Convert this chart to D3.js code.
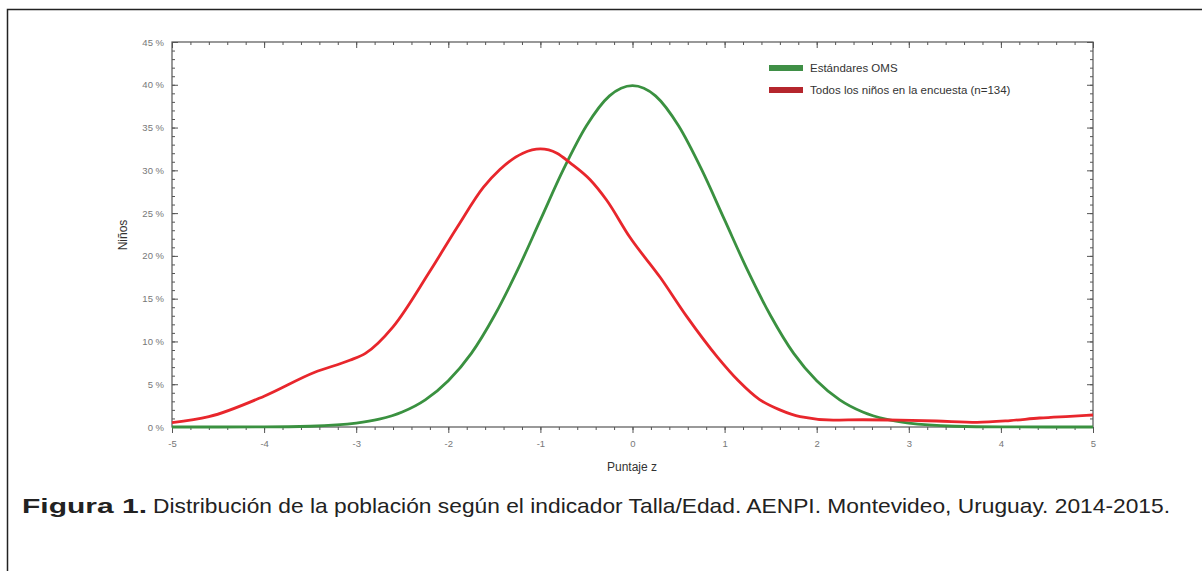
<!DOCTYPE html>
<html><head><meta charset="utf-8">
<script src="https://cdn.jsdelivr.net/npm/d3@7"></script>
<style>html,body{margin:0;padding:0;background:#fff;}svg{display:block;}</style>
</head><body>
<svg id="c" width="1202" height="571"></svg>
<script>
// ---- data ----
const xTicks = [-5,-4,-3,-2,-1,0,1,2,3,4,5];
const yTicks = [0,5,10,15,20,25,30,35,40,45];
const seriesNames = ["Estándares OMS", "Todos los niños en la encuesta (n=134)"];
// WHO standard curve
const whoZ = [-5,-4.5,-4,-3.5,-3,-2.75,-2.5,-2.25,-2,-1.75,-1.5,-1.25,-1,-0.75,-0.5,-0.25,0,0.25,0.5,0.75,1,1.25,1.5,1.75,2,2.25,2.5,2.75,3,3.5,4,4.5,5];
const whoPct = [0,0,0.01,0.09,0.44,0.91,1.75,3.17,5.4,8.6,13.0,18.3,24.2,30.1,35.2,38.7,39.9,38.7,35.2,30.1,24.2,18.3,13.0,8.6,5.4,3.17,1.75,0.91,0.44,0.09,0.01,0,0];
// survey children curve
const surZ = [-5,-4.6,-4,-3.45,-3.07,-2.9,-2.6,-2.2,-1.9,-1.62,-1.44,-1.19,-1.0,-0.82,-0.68,-0.46,-0.28,-0.03,0.3,0.59,0.92,1.15,1.38,1.6,1.82,2.18,2.5,2.9,3.3,3.74,4.1,4.42,4.75,5];
const surPct = [0.5,1.2,3.6,6.4,7.8,8.6,11.7,18.2,23.4,28.0,30.1,32.0,32.5,32.0,30.9,28.9,26.5,22.2,17.5,12.9,8.2,5.4,3.2,2.0,1.2,0.8,0.85,0.8,0.7,0.55,0.75,1.05,1.25,1.4];

// ---- layout ----
const svg = d3.select("#c");
const L = 172, R = 1093, T = 42, B = 427;
const x = d3.scaleLinear().domain([-5,5]).range([L,R]);
const y = d3.scaleLinear().domain([0,45]).range([B,T]);
const axisCol = "#555";
const FONT = "Liberation Sans, Arial, sans-serif";

// outer frame (top and left)
svg.append("path").attr("d","M7.5,571 L7.5,9.5 L1202,9.5").attr("fill","none").attr("stroke","#222").attr("stroke-width",1.5);

// axes with ticks
const minorX = d3.range(-5,5.0001,0.2).map(v=>+v.toFixed(2));
const minorY = d3.range(0,45.0001,1);
function styleAxis(g){ g.select(".domain").remove(); g.selectAll("line").attr("stroke",axisCol); g.selectAll("text").attr("fill","#777").attr("font-family",FONT).attr("font-size",9.5); }
// bottom (outward)
svg.append("g").attr("transform",`translate(0,${B})`).call(d3.axisBottom(x).tickValues(minorX).tickSize(3).tickFormat("")).call(styleAxis);
svg.append("g").attr("transform",`translate(0,${B})`).call(d3.axisBottom(x).tickValues(xTicks).tickSize(6).tickPadding(7).tickFormat(d=>String(d))).call(styleAxis);
// top (inward)
svg.append("g").attr("transform",`translate(0,${T})`).call(d3.axisBottom(x).tickValues(minorX).tickSize(3).tickFormat("")).call(styleAxis);
svg.append("g").attr("transform",`translate(0,${T})`).call(d3.axisBottom(x).tickValues(xTicks).tickSize(6).tickFormat("")).call(styleAxis);
// left (inward)
svg.append("g").attr("transform",`translate(${L},0)`).call(d3.axisRight(y).tickValues(minorY).tickSize(3).tickFormat("")).call(styleAxis);
svg.append("g").attr("transform",`translate(${L},0)`).call(d3.axisRight(y).tickValues(yTicks).tickSize(6).tickFormat("")).call(styleAxis);
svg.append("g").attr("transform",`translate(${L},0)`).call(d3.axisLeft(y).tickValues(yTicks).tickSize(0).tickPadding(8).tickFormat(d=>d+" %")).call(styleAxis);
// right (inward)
svg.append("g").attr("transform",`translate(${R},0)`).call(d3.axisLeft(y).tickValues(minorY).tickSize(3).tickFormat("")).call(styleAxis);
svg.append("g").attr("transform",`translate(${R},0)`).call(d3.axisLeft(y).tickValues(yTicks).tickSize(6).tickFormat("")).call(styleAxis);
// plot frame
svg.append("rect").attr("x",L).attr("y",T).attr("width",R-L).attr("height",B-T).attr("fill","none").attr("stroke",axisCol).attr("stroke-width",1.2);

// curves
const line = d3.line().x(d=>x(d[0])).y(d=>y(d[1])).curve(d3.curveMonotoneX);
const whoData = whoZ.map((z,i)=>[z,whoPct[i]]);
const surData = surZ.map((z,i)=>[z,surPct[i]]);
svg.append("path").datum(whoData).attr("d",line).attr("fill","none").attr("stroke","#3a9140").attr("stroke-width",2.8);
svg.append("path").datum(surData).attr("d",line).attr("fill","none").attr("stroke","#e8262c").attr("stroke-width",2.8);

// axis titles
svg.append("text").attr("x",632).attr("y",471).attr("text-anchor","middle").attr("font-family",FONT).attr("font-size",12).attr("fill","#333").text("Puntaje z");
svg.append("text").attr("transform","translate(127,235) rotate(-90)").attr("text-anchor","middle").attr("font-family",FONT).attr("font-size",12).attr("fill","#333").text("Niños");

// legend
const legCols = ["#3f8f46","#b5262d"];
seriesNames.forEach((n,i)=>{
  const ly = 68 + i*22;
  svg.append("rect").attr("x",769).attr("y",ly-3).attr("width",34).attr("height",6).attr("fill",legCols[i]);
  svg.append("text").attr("x",810).attr("y",ly+4).attr("font-family",FONT).attr("font-size",11.5).attr("fill","#333").text(n);
});

// caption
svg.append("text").attr("x",22).attr("y",513).attr("font-family",FONT).attr("font-size",21).attr("font-weight","bold").attr("fill","#222")
  .attr("textLength",125).attr("lengthAdjust","spacingAndGlyphs").text("Figura 1.");
svg.append("text").attr("x",153).attr("y",513).attr("font-family",FONT).attr("font-size",21).attr("fill","#222")
  .attr("textLength",1017).attr("lengthAdjust","spacingAndGlyphs").text("Distribución de la población según el indicador Talla/Edad. AENPI. Montevideo, Uruguay. 2014-2015.");
</script>
</body></html>
